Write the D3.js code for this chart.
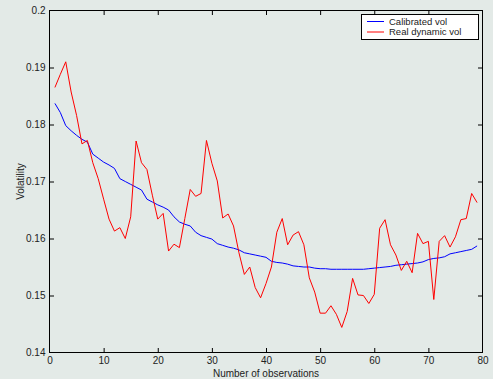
<!DOCTYPE html>
<html>
<head>
<meta charset="utf-8">
<script src="https://cdn.jsdelivr.net/npm/d3@7"></script>
<style>
  html, body { margin: 0; padding: 0; background: #e3eae7; }
  svg { display: block; }
  text { font-family: "Liberation Sans", Arial, Helvetica, sans-serif; fill: #222; }
</style>
</head>
<body>
<svg id="chart" width="493" height="379"></svg>
<script>
// Observation index 1..79
const observations = d3.range(1, 80);

// Volatility from the calibrated model
const calibratedVol = [
  0.1837, 0.1821, 0.1798, 0.1789, 0.1781, 0.1774, 0.1769, 0.1748, 0.1741, 0.1734,
  0.1729, 0.1723, 0.1705, 0.1700, 0.1695, 0.1690, 0.1685, 0.1669, 0.1664, 0.1659,
  0.1655, 0.1650, 0.1638, 0.1629, 0.1625, 0.1622, 0.1611, 0.1605, 0.1602, 0.1599,
  0.1591, 0.1588, 0.1585, 0.1583, 0.1580, 0.1575, 0.1573, 0.1571, 0.1569, 0.1567,
  0.1560, 0.1558, 0.1557, 0.1555, 0.1552, 0.1551, 0.1550, 0.1550, 0.1548, 0.1547,
  0.1547, 0.1546, 0.1546, 0.1546, 0.1546, 0.1546, 0.1546, 0.1546, 0.1547, 0.1548,
  0.1549, 0.1550, 0.1551, 0.1553, 0.1554, 0.1555, 0.1556, 0.1557, 0.1559, 0.1563,
  0.1565, 0.1566, 0.1568, 0.1573, 0.1575, 0.1577, 0.1579, 0.1581, 0.1587
];

// Realised dynamic volatility
const realDynamicVol = [
  0.1865, 0.1888, 0.1910, 0.1857, 0.1816, 0.1766, 0.1772, 0.1733, 0.1705, 0.1669,
  0.1634, 0.1613, 0.1619, 0.1600, 0.1638, 0.1771, 0.1733, 0.1721, 0.1676, 0.1634,
  0.1644, 0.1578, 0.1590, 0.1584, 0.1635, 0.1686, 0.1674, 0.1679, 0.1772, 0.1732,
  0.1701, 0.1636, 0.1643, 0.1622, 0.1575, 0.1537, 0.1550, 0.1514, 0.1496, 0.1521,
  0.1550, 0.1611, 0.1635, 0.1589, 0.1606, 0.1612, 0.1589, 0.1531, 0.1506, 0.1469,
  0.1469, 0.1482, 0.1467, 0.1444, 0.1472, 0.1530, 0.1501, 0.1500, 0.1486, 0.1502,
  0.1618, 0.1633, 0.1589, 0.1571, 0.1544, 0.1560, 0.1540, 0.1609, 0.1591, 0.1595,
  0.1493, 0.1595, 0.1605, 0.1585, 0.1603, 0.1633, 0.1635, 0.1679, 0.1663
];

const xTicks = [0, 10, 20, 30, 40, 50, 60, 70, 80];
const yTicks = [0.14, 0.15, 0.16, 0.17, 0.18, 0.19, 0.2];
const seriesNames = ["Calibrated vol", "Real dynamic vol"];
const seriesColors = ["#0000ff", "#ff0000"];

const svg = d3.select("#chart");
const plotLeft = 49.5, plotRight = 482.5, plotTop = 10.5, plotBottom = 352.5;

const x = d3.scaleLinear().domain([0, 80]).range([plotLeft, plotRight]);
const y = d3.scaleLinear().domain([0.14, 0.2]).range([plotBottom, plotTop]);

const tickLen = 4.5;

// Box
svg.append("rect")
  .attr("x", plotLeft).attr("y", plotTop)
  .attr("width", plotRight - plotLeft).attr("height", plotBottom - plotTop)
  .attr("fill", "none").attr("stroke", "#000").attr("stroke-width", 1);

// Bottom axis with labels, inward ticks
const xAxisB = d3.axisBottom(x).tickValues(xTicks).tickSizeInner(-tickLen).tickSizeOuter(0)
  .tickPadding(4.5).tickFormat(d3.format("d"));
const gxb = svg.append("g").attr("transform", `translate(0,${plotBottom})`).call(xAxisB);
// Top axis ticks only
const gxt = svg.append("g").attr("transform", `translate(0,${plotTop})`)
  .call(d3.axisTop(x).tickValues(xTicks).tickSizeInner(-tickLen).tickSizeOuter(0).tickFormat(""));
// Left axis with labels
const yAxisL = d3.axisLeft(y).tickValues(yTicks).tickSizeInner(-tickLen).tickSizeOuter(0)
  .tickPadding(4).tickFormat(d => String(+d.toFixed(2)));
const gyl = svg.append("g").attr("transform", `translate(${plotLeft},0)`).call(yAxisL);
// Right axis ticks only
const gyr = svg.append("g").attr("transform", `translate(${plotRight},0)`)
  .call(d3.axisRight(y).tickValues(yTicks).tickSizeInner(-tickLen).tickSizeOuter(0).tickFormat(""));

[gxb, gxt, gyl, gyr].forEach(g => {
  g.select(".domain").remove();
  g.selectAll(".tick line").attr("stroke", "#000");
  g.selectAll(".tick text").style("font-size", "10px").attr("fill", "#222");
});

// Hide ticks that sit on the box corners
gxb.selectAll(".tick").filter(d => d === 0 || d === 80).select("line").remove();
gxt.selectAll(".tick").filter(d => d === 0 || d === 80).select("line").remove();
gyl.selectAll(".tick").filter(d => d === 0.14 || d === 0.2).select("line").remove();
gyr.selectAll(".tick").filter(d => d === 0.14 || d === 0.2).select("line").remove();

// Series lines
const line = d3.line().x((d, i) => x(observations[i])).y(d => y(d));
[calibratedVol, realDynamicVol].forEach((vals, k) => {
  svg.append("path")
    .datum(vals)
    .attr("d", line)
    .attr("fill", "none")
    .attr("stroke", seriesColors[k])
    .attr("stroke-width", 1);
});

// Axis titles
svg.append("text")
  .attr("x", (plotLeft + plotRight) / 2).attr("y", 377)
  .attr("text-anchor", "middle")
  .style("font-size", "10px")
  .text("Number of observations");

svg.append("text")
  .attr("transform", `translate(23.5,${(plotTop + plotBottom) / 2}) rotate(-90)`)
  .attr("text-anchor", "middle")
  .style("font-size", "10px")
  .text("Volatility");

// Legend
const lg = svg.append("g").attr("transform", "translate(361.5,14.5)");
lg.append("rect").attr("width", 117).attr("height", 25)
  .attr("fill", "#fff").attr("stroke", "#000").attr("stroke-width", 1);
seriesNames.forEach((name, i) => {
  const ly = 7 + i * 10.5;
  lg.append("line").attr("x1", 5.5).attr("x2", 22.5).attr("y1", ly).attr("y2", ly)
    .attr("stroke", seriesColors[i]).attr("stroke-width", 1);
  lg.append("text").attr("x", 27.5).attr("y", ly).attr("dy", "0.35em")
    .style("font-size", "9.5px").text(name);
});
</script>
</body>
</html>
